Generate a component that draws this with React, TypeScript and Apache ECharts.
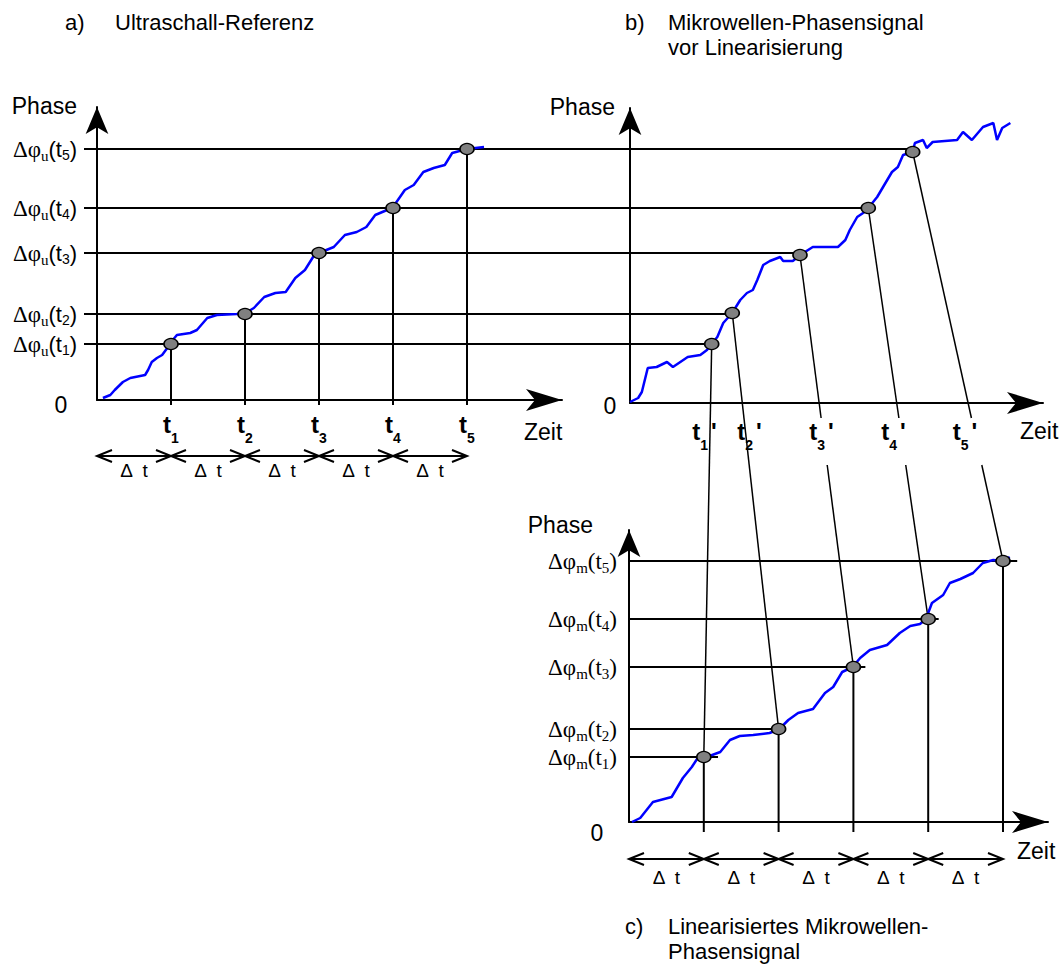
import { useEffect, useRef } from 'react';
import * as echarts from 'echarts';

const SANS = '"Liberation Sans", Arial, Helvetica, sans-serif';
const SERIF = '"Liberation Serif", "Times New Roman", serif';

// ---------- data (time in units of Δt, phase in arbitrary units) ----------
const tIdx = [1, 2, 3, 4, 5];

// a) ultrasonic reference
const aCurveX = [0.08, 0.18, 0.24, 0.35, 0.45, 0.65, 0.69, 0.74, 0.81, 0.88, 0.95, 0.99, 1.08, 1.26, 1.35, 1.49, 1.62, 1.89, 2.03, 2.12, 2.26, 2.41, 2.55, 2.68, 2.81, 2.92, 3.0, 3.2, 3.35, 3.51, 3.64, 3.76, 3.92, 4.0, 4.16, 4.28, 4.41, 4.55, 4.70, 4.80, 5.0, 5.23];
const aCurveY = [2, 5, 10, 18, 22, 25, 30, 38, 42, 45, 52, 57, 65, 67, 70, 82, 85, 86, 88, 92, 103, 107, 108, 122, 130, 143, 147, 153, 165, 168, 173, 185, 190, 193, 210, 215, 228, 232, 235, 247, 251, 253];
const aLevels = [56, 86, 147, 192, 251];

// b) microwave phase before linearisation
const bCurveX = [0, 0.11, 0.16, 0.24, 0.36, 0.5, 0.58, 0.68, 0.78, 0.95, 1.04, 1.10, 1.18, 1.26, 1.38, 1.49, 1.58, 1.66, 1.72, 1.80, 1.89, 2.03, 2.07, 2.20, 2.30, 2.47, 2.81, 2.91, 2.97, 3.07, 3.15, 3.22, 3.34, 3.42, 3.54, 3.62, 3.69, 3.82, 3.85, 3.96, 4.01, 4.09, 4.42, 4.50, 4.62, 4.77, 4.91, 4.96, 5.03, 5.14];
const bCurveY = [1, 5, 11, 35, 36, 41, 36, 41, 46, 48, 53, 59, 66, 80, 90, 103, 110, 113, 123, 138, 142, 146, 142, 142, 148, 156, 156, 163, 173, 186, 190, 195, 206, 216, 231, 236, 248, 251, 260, 263, 255, 261, 263, 271, 263, 276, 280, 263, 275, 280];
const bDotX = [1.104, 1.382, 2.297, 3.22, 3.82];
const bDotY = [59, 90, 148, 195, 251];
const bLabelX = [1.007, 1.615, 2.588, 3.561, 4.527];

// c) linearised microwave phase
const cCurveX = [0.04, 0.15, 0.32, 0.57, 0.72, 0.84, 0.91, 1.04, 1.22, 1.35, 1.48, 1.66, 1.88, 2.01, 2.13, 2.26, 2.46, 2.62, 2.73, 2.85, 2.99, 3.09, 3.22, 3.45, 3.62, 3.76, 3.89, 3.97, 4.05, 4.20, 4.29, 4.43, 4.60, 4.73, 4.87, 5.0, 5.09];
const cCurveY = [0, 4, 20, 25, 44, 55, 63, 65, 70, 82, 86, 87, 89, 93, 102, 109, 113, 129, 135, 150, 155, 164, 172, 177, 189, 196, 198, 203, 219, 227, 239, 243, 249, 259, 262, 261, 265];
const cLevels = [65, 93, 155, 203, 261];
const cLineEnd = [1.19, 2.06, 3.16, 4.14, 5.19];

// ---------- layout constants ----------
const A_DROP_END = -5;
const C_DROP_END = -10;
const C_LINE_START = -0.15;

const zip = (xs: number[], ys: number[]) => xs.map((x, i) => [x, ys[i]]);
const idxOf = (arr: number[], v: number) => arr.findIndex((x) => Math.abs(x - v) < 1e-6);

const tRich = {
  t: { fontFamily: SANS, fontWeight: 'bold', fontSize: 24, lineHeight: 24, verticalAlign: 'top', color: '#000' },
  s: { fontFamily: SANS, fontWeight: 'bold', fontSize: 14, lineHeight: 14, verticalAlign: 'top', color: '#000', padding: [19, 0, 0, 0] },
  q: { fontFamily: SANS, fontWeight: 'bold', fontSize: 24, lineHeight: 24, verticalAlign: 'top', color: '#000', padding: [0, 0, 0, 3] },
};
const aRich = {
  d: { fontFamily: SERIF, fontSize: 23, lineHeight: 22, verticalAlign: 'top', color: '#000' },
  u: { fontFamily: SERIF, fontSize: 15, lineHeight: 15, verticalAlign: 'top', color: '#000', padding: [10, 0, 0, 0] },
  p: { fontFamily: SANS, fontSize: 22, lineHeight: 22, verticalAlign: 'top', color: '#000' },
  n: { fontFamily: SANS, fontSize: 14, lineHeight: 14, verticalAlign: 'top', color: '#000', padding: [10, 0, 0, 0] },
};
const cRich = {
  d: { fontFamily: SERIF, fontSize: 23, lineHeight: 22, verticalAlign: 'top', color: '#000' },
  u: { fontFamily: SERIF, fontSize: 15, lineHeight: 15, verticalAlign: 'top', color: '#000', padding: [10, 0, 0, 0] },
  p: { fontFamily: SERIF, fontSize: 23, lineHeight: 22, verticalAlign: 'top', color: '#000' },
  n: { fontFamily: SERIF, fontSize: 15, lineHeight: 15, verticalAlign: 'top', color: '#000', padding: [10, 0, 0, 0] },
};

function buildOption(): any {
  const arrowX = { show: true, onZero: true, symbol: ['none', 'arrow'], symbolSize: [16.5, 36], lineStyle: { color: '#000', width: 2 } };
  const arrowY = { show: true, onZero: true, symbol: ['none', 'arrow'], symbolSize: [17, 27], lineStyle: { color: '#000', width: 2 } };
  const base = { type: 'value', splitLine: { show: false }, axisTick: { show: false } };

  const curve = (g: number, xs: number[], ys: number[]) => ({
    type: 'line', xAxisIndex: g, yAxisIndex: g, data: zip(xs, ys), symbol: 'none', showSymbol: false,
    lineStyle: { color: '#0000ff', width: 2.5 }, z: 4, silent: true, clip: false,
  });
  const seg = (g: number, p1: number[], p2: number[]) => ({
    type: 'line', xAxisIndex: g, yAxisIndex: g, data: [p1, p2], symbol: 'none', showSymbol: false,
    lineStyle: { color: '#000', width: 2 }, z: 3, silent: true, clip: false,
  });
  const dots = (g: number, xs: number[], ys: number[]) => ({
    type: 'scatter', xAxisIndex: g, yAxisIndex: g, data: zip(xs, ys), symbol: 'circle', symbolSize: [14, 11],
    itemStyle: { color: '#808080', borderColor: '#000', borderWidth: 1.5, opacity: 1 }, z: 6, silent: true,
  });

  const series: any[] = [
    curve(0, aCurveX, aCurveY),
    curve(1, bCurveX, bCurveY),
    curve(2, cCurveX, cCurveY),
    ...tIdx.map((t, i) => seg(0, [t, aLevels[i]], [t, A_DROP_END])),
    ...tIdx.map((t, i) => seg(2, [t, cLevels[i]], [t, C_DROP_END])),
    ...cLevels.map((lv, i) => seg(2, [C_LINE_START, lv], [cLineEnd[i], lv])),
    dots(0, tIdx, aLevels),
    dots(1, bDotX, bDotY),
    dots(2, tIdx, cLevels),
  ];

  return {
    animation: false,
    backgroundColor: '#fff',
    textStyle: { fontFamily: SANS, color: '#000' },
    grid: [
      { left: 97, top: 107, width: 465, height: 293, outerBoundsMode: 'none', containLabel: false },
      { left: 630, top: 108, width: 413, height: 295, outerBoundsMode: 'none', containLabel: false },
      { left: 629, top: 530, width: 419, height: 292, outerBoundsMode: 'none', containLabel: false },
    ],
    xAxis: [
      {
        ...base, gridIndex: 0, min: 0, max: 465 / 74, axisLine: arrowX,
        axisLabel: { customValues: tIdx, margin: 12, color: '#000', formatter: (v: number) => `{t|t}{s|${idxOf(tIdx, v) + 1}}`, rich: tRich },
      },
      {
        ...base, gridIndex: 1, min: 0, max: 413 / 74, axisLine: arrowX,
        axisLabel: { customValues: bLabelX, margin: 16, color: '#000', formatter: (v: number) => `{t|t}{s|${idxOf(bLabelX, v) + 1}}{q|'}`, rich: tRich },
      },
      { ...base, gridIndex: 2, min: 0, max: 419 / 74.8, axisLine: arrowX, axisLabel: { show: false } },
    ],
    yAxis: [
      {
        ...base, gridIndex: 0, min: 0, max: 293, axisLine: arrowY,
        axisLabel: { customValues: aLevels, margin: 20, color: '#000', formatter: (v: number) => `{d|Δφ}{u|u}{p|(t}{n|${idxOf(aLevels, v) + 1}}{p|)}`, rich: aRich },
      },
      { ...base, gridIndex: 1, min: 0, max: 295, axisLine: arrowY, axisLabel: { show: false } },
      {
        ...base, gridIndex: 2, min: 0, max: 292, axisLine: arrowY,
        axisLabel: { customValues: cLevels, margin: 12, color: '#000', formatter: (v: number) => `{d|Δφ}{u|m}{p|(t}{n|${idxOf(cLevels, v) + 1}}{p|)}`, rich: cRich },
      },
    ],
    series,
  };
}

function buildGraphic(chart: echarts.ECharts): any[] {
  const P = (g: number, p: number[]) => chart.convertToPixel({ gridIndex: g }, p) as number[];
  const els: any[] = [];
  const line = (x1: number, y1: number, x2: number, y2: number, w = 2) =>
    els.push({ type: 'line', silent: true, shape: { x1, y1, x2, y2 }, style: { stroke: '#000', lineWidth: w } });
  const poly = (pts: number[][]) =>
    els.push({ type: 'polyline', silent: true, shape: { points: pts }, style: { stroke: '#000', lineWidth: 2, fill: null } });
  const text = (s: string, x: number, y: number, size: number, align = 'left', family = SANS) =>
    els.push({ type: 'text', silent: true, x, y, style: { text: s, fill: '#000', fontSize: size, fontFamily: family, align, verticalAlign: 'middle' } });

  // horizontal phase levels from a) to b)
  aLevels.forEach((lv, i) => {
    const [x0, y0] = P(0, [0, lv]);
    const [xb] = P(1, [bDotX[i], bDotY[i]]);
    line(x0 - 13, y0, xb, y0);
  });

  // connectors b) -> c)
  const bAxisY = P(1, [0, 0])[1];
  const gapTop = bAxisY + 15;
  const gapBot = bAxisY + 62;
  bDotX.forEach((bx, i) => {
    const [x1, y1] = P(1, [bx, bDotY[i]]);
    const [x2, y2] = P(2, [tIdx[i], cLevels[i]]);
    if (i < 2) {
      line(x1, y1, x2, y2, 1.5);
    } else {
      const at = (y: number) => x1 + ((x2 - x1) * (y - y1)) / (y2 - y1);
      line(x1, y1, at(gapTop), gapTop, 1.5);
      line(at(gapBot), gapBot, x2, y2, 1.5);
    }
  });

  // Δt rows
  const row = (g: number, yOff: number, labOff: number) => {
    const ay = P(g, [0, 0])[1];
    const y = ay + yOff;
    const xs = [0, ...tIdx].map((t) => P(g, [t, 0])[0]);
    line(xs[0], y, xs[xs.length - 1], y, 2);
    xs.forEach((x, k) => {
      if (k < xs.length - 1) poly([[x + 15, y - 6], [x, y], [x + 15, y + 6]]);
      if (k > 0) poly([[x - 15, y - 6], [x, y], [x - 15, y + 6]]);
    });
    for (let k = 0; k < xs.length - 1; k++) text('Δ\u2002t', (xs[k] + xs[k + 1]) / 2, y + labOff, 19, 'center');
  };
  row(0, 56, 14.5);
  row(2, 37, 18.5);

  // titles
  text('a)', 65, 22, 22);
  text('Ultraschall-Referenz', 115, 22, 22);
  text('b)', 625, 22, 22);
  text('Mikrowellen-Phasensignal', 668, 22, 22);
  text('vor Linearisierung', 668, 47, 22);
  text('c)', 625, 926, 22);
  text('Linearisiertes Mikrowellen-', 668, 926, 22);
  text('Phasensignal', 668, 951, 22);

  // axis names and zeros
  text('Phase', 77, 106, 23, 'right');
  text('Phase', 615, 107, 23, 'right');
  text('Phase', 593, 525, 23, 'right');
  text('Zeit', 524, 432, 23);
  text('Zeit', 1020, 431, 23);
  text('Zeit', 1017, 851, 23);
  text('0', 61, 405, 23, 'center');
  text('0', 610, 406, 23, 'center');
  text('0', 597, 833, 23, 'center');

  return els;
}

export default function App() {
  const ref = useRef<HTMLDivElement>(null);
  useEffect(() => {
    const el = ref.current;
    if (!el) return;
    const chart = echarts.init(el, null, { renderer: 'svg' });
    chart.setOption(buildOption());
    chart.setOption({ graphic: buildGraphic(chart) });
    return () => chart.dispose();
  }, []);
  return (
    <div
      ref={ref}
      style={{ position: 'absolute', left: 0, top: 0, width: 1064, height: 965, background: '#fff' }}
    />
  );
}
